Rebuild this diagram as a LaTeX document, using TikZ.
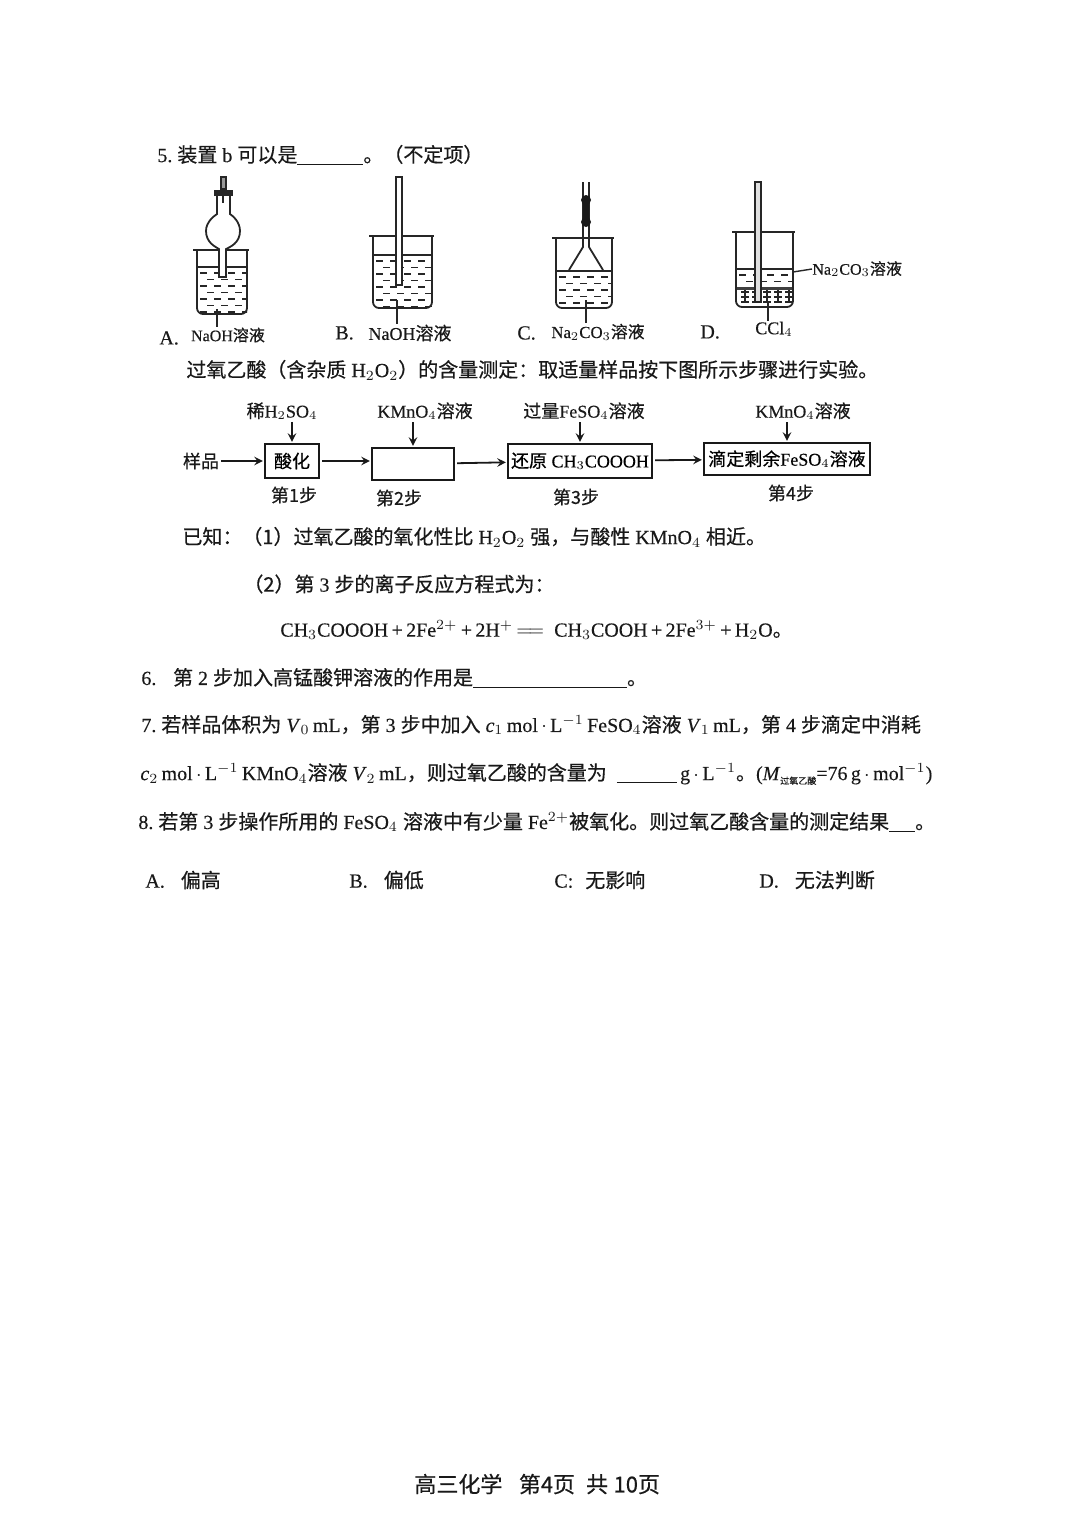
\documentclass[tikz,border=0pt]{standalone}
\usepackage{amsmath}
\usepackage{fontspec}
\usetikzlibrary{arrows}
\setmainfont[FakeBold=0.3]{Liberation Serif}
\newfontfamily\cjk[FakeBold=0.5]{Noto Sans CJK SC}
\newcommand{\zh}[1]{{\cjk #1}}
\newcommand{\blank}[1]{\rule[-1.5pt]{#1}{0.6pt}}
\newcommand{\beaker}[4]{%
  \draw[glass] (#1-4,#3) -- (#2+2,#3);
  \draw[glass, rounded corners=3pt] (#1,#3) -- (#1,#4) -- (#2,#4) -- (#2,#3);
}
\newcommand{\liquid}[4]{%
  \begin{scope}
    \clip (#1,#3) rectangle (#2,#4);
    \foreach \n in {0,...,8}{
      \foreach \m in {0,...,5}{
        \draw[dashline] ({#1+3+\m*14+mod(\n,2)*7},{#3+6+\n*6.5}) -- ++(7,0);
      }
    }
  \end{scope}
  \draw[glass] (#1,#3) -- (#2,#3);
}
\tikzset{
  glass/.style={line width=0.9pt, draw=black!85},
  dashline/.style={line width=0.95pt, draw=black!85},
  leader/.style={line width=0.7pt, draw=black!85},
  txt/.style={anchor=west, inner sep=0pt, font=\fontsize{10}{12}\selectfont, text=black!90},
  lab/.style={inner sep=0pt, font=\fontsize{8}{10}\selectfont, text=black!90},
  toplab/.style={inner sep=0pt, font=\fontsize{9}{11}\selectfont, text=black!90},
  stepbox/.style={draw=black!90, line width=1.1pt, inner sep=0pt, font=\fontsize{9}{11}\selectfont},
}
\begin{document}
\begin{tikzpicture}[x=0.5pt,y=-0.5pt,>=stealth,node distance=25pt]
  \useasboundingbox (0,0) rectangle (1080,1527);

  % question 5
  \node[txt](t5) at (157,155){5.\ \zh{装置} b \zh{可以是}\blank{33pt}\zh{。（不定项）}};

  % beaker A
  \liquid{197}{247}{267}{314}
  \beaker{197}{247}{250}{314}
  \draw[glass, fill=white] (219,277) -- (219,249) .. controls (216,247) and (206,243) .. (206,231)
    .. controls (206,222) and (214,216) .. (217,214) -- (217,194) -- (230,194) -- (230,214)
    .. controls (233,216) and (240,222) .. (240,231) .. controls (240,243) and (230,247) .. (226,249)
    -- (226,277) -- cycle;
  \fill[black!85] (214,190) rectangle (233,196);
  \draw[glass, fill=black!40] (221,177) rectangle (226,189);
  \draw[glass] (223,196) -- (223,203);
  \node[lab](labA) at (228,335){NaOH\zh{溶液}};
  \coordinate (legA) at (217,309);
  \draw[leader] (legA) -- (legA |- labA.north);
  \node[txt](optA) at (159,338){A.};

  % beaker B
  \liquid{373}{432}{255}{308}
  \beaker{373}{432}{236}{308}
  \draw[glass, fill=white] (396,177) rectangle (402,285);
  \node[toplab](labB) at (410,333){NaOH\zh{溶液}};
  \coordinate (legB) at (397,300);
  \draw[leader] (legB) -- (legB |- labB.north);
  \node[txt](optB) at (335,333){B.};

  % beaker C
  \liquid{556}{612}{271}{308}
  \beaker{556}{612}{238}{308}
  \draw[glass] (583,182) -- (583,247) -- (569,270);
  \draw[glass] (589,182) -- (589,247) -- (603,270);
  \fill[black!90] (583,197) rectangle (589,225);
  \fill[black!90] (586,200) circle (5);
  \fill[black!90] (586,222) circle (5);
  \node[lab, font=\fontsize{8.4}{10}\selectfont](labC) at (598,332){Na$_2$CO$_3$\zh{溶液}};
  \coordinate (legC) at (586,300);
  \draw[leader] (legC) -- (legC |- labC.north);
  \node[txt](optC) at (517,333){C.};

  % beaker D
  \liquid{736}{793}{269}{288}
  \fill[black!75] (736,287) rectangle (793,290);
  \foreach \n in {0,1,2}{
    \foreach \m in {0,...,4}{
      \draw[dashline] ({741+\m*11},{292+\n*5}) -- ++(8,0);
      \draw[dashline] ({745+\m*11},290) -- ++(0,13);
    }
  }
  \beaker{736}{793}{232}{307}
  \draw[glass, fill=black!12] (755,182) rectangle (761,302);
  \node[toplab](labD) at (774,329){CCl$_4$};
  \coordinate (legD) at (768,303);
  \draw[leader] (legD) -- (legD |- labD.north);
  \node[lab, anchor=west](labD2) at (812,269){Na$_2$CO$_3$\zh{溶液}};
  \coordinate (legD2) at (793,272);
  \draw[leader] (legD2) -- (labD2.west);
  \node[txt](optD) at (700,332){D.};

  % flow chart
  \node[txt](t6) at (186,370){\zh{过氧乙酸（含杂质} H$_2$O$_2$\zh{）的含量测定：取适量样品按下图所示步骤进行实验。}};

  \node[toplab](0) at (201,461){\zh{样品}};
  \node[stepbox, minimum width=27pt, minimum height=17pt](1) at (292,461){\zh{酸化}};
  \node[stepbox, minimum width=41pt, minimum height=16pt](2) at (413,464){};
  \node[stepbox, minimum width=72pt, minimum height=17pt](3) at (580,461){\zh{还原} CH$_3$COOOH};
  \node[stepbox, minimum width=83pt, minimum height=16pt](4) at (787,459){\zh{滴定剩余}FeSO$_4$\zh{溶液}};

  \node[toplab, xshift=-5pt](a1) [above of = 1]{\zh{稀}H$_2$SO$_4$};
  \node[toplab, xshift=6pt, yshift=1.5pt](a2) [above of = 2]{KMnO$_4$\zh{溶液}};
  \node[toplab, xshift=2pt](a3) [above of = 3]{\zh{过量}FeSO$_4$\zh{溶液}};
  \node[toplab, xshift=8pt, yshift=-1pt](a4) [above of = 4]{KMnO$_4$\zh{溶液}};

  \node[toplab, yshift=8pt, xshift=1pt](b1) [below of = 1]{\zh{第1步}};
  \node[toplab, yshift=8pt, xshift=-7pt](b2) [below of = 2]{\zh{第2步}};
  \node[toplab, yshift=7pt, xshift=-2pt](b3) [below of = 3]{\zh{第3步}};
  \node[toplab, yshift=8pt, xshift=2pt](b4) [below of = 4]{\zh{第4步}};

  \path[->, line width=0.9pt, color=black!90, shorten >=0.5pt, shorten <=1pt]
    (0) edge (1)
    (1) edge (2.west |- 1)
    (2) edge (3)
    (3) edge (4)
    (a1.south -| 1.north) edge (1.north)
    (a2.south -| 2.north) edge (2.north)
    (a3.south -| 3.north) edge (3.north)
    (a4.south -| 4.north) edge (4.north)
  ;

  % known conditions
  \node[txt](t7) at (182,537){\zh{已知：（1）过氧乙酸的氧化性比} H$_2$O$_2$ \zh{强，与酸性} KMnO$_4$ \zh{相近。}};
  \node[txt](t8) at (243,584){\zh{（2）第}\ 3\ \zh{步的离子反应方程式为：}};
  \node[txt](t9) at (280,630){CH$_3$COOOH\,+\,2Fe$^{2+}$\,+\,2H$^{+}$\,$=\!=$\ \ CH$_3$COOH\,+\,2Fe$^{3+}$\,+\,H$_2$O\zh{。}};

  % questions 6 to 8
  \node[txt](t10) at (141,678){6.\hspace{5pt} \zh{第} 2 \zh{步加入高锰酸钾溶液的作用是}\blank{77pt}\zh{。}};
  \node[txt](t11) at (141,725){7.\ \zh{若样品体积为} \textit{V}$_0$\,mL\zh{，第} 3 \zh{步中加入} \textit{c}$_1$\,mol\,$\cdot$\,L$^{-1}$\,FeSO$_4$\zh{溶液} \textit{V}$_1$\,mL\zh{，第} 4 \zh{步滴定中消耗}};
  \node[txt](t12) at (140,774){\textit{c}$_2$\,mol\,$\cdot$\,L$^{-1}$\,KMnO$_4$\zh{溶液} \textit{V}$_2$\,mL\zh{，则过氧乙酸的含量为}\ \ \blank{30pt}\,g\,$\cdot$\,L$^{-1}$\zh{。}(\textit{M}\raisebox{-2pt}{\fontsize{4.5}{5}\selectfont\zh{过氧乙酸}}=76\,g\,$\cdot$\,mol$^{-1}$)};
  \node[txt](t13) at (138,822){8.\ \zh{若第} 3 \zh{步操作所用的} FeSO$_4$ \zh{溶液中有少量} Fe$^{2+}$\zh{被氧化。则过氧乙酸含量的测定结果}\blank{13pt}\zh{。}};

  \node[txt](o1) at (145,880){A.\hspace{8pt}\zh{偏高}};
  \node[txt](o2) at (349,880){B.\hspace{8pt}\zh{偏低}};
  \node[txt](o3) at (554,880){C:\hspace{6pt}\zh{无影响}};
  \node[txt](o4) at (759,880){D.\hspace{8pt}\zh{无法判断}};

  % footer
  \node[txt, font=\fontsize{11}{12}\selectfont](foot) at (414,1484){\zh{高三化学}\ \ \ \zh{第4页}\ \ \zh{共} \zh{10页}};
\end{tikzpicture}
\end{document}
